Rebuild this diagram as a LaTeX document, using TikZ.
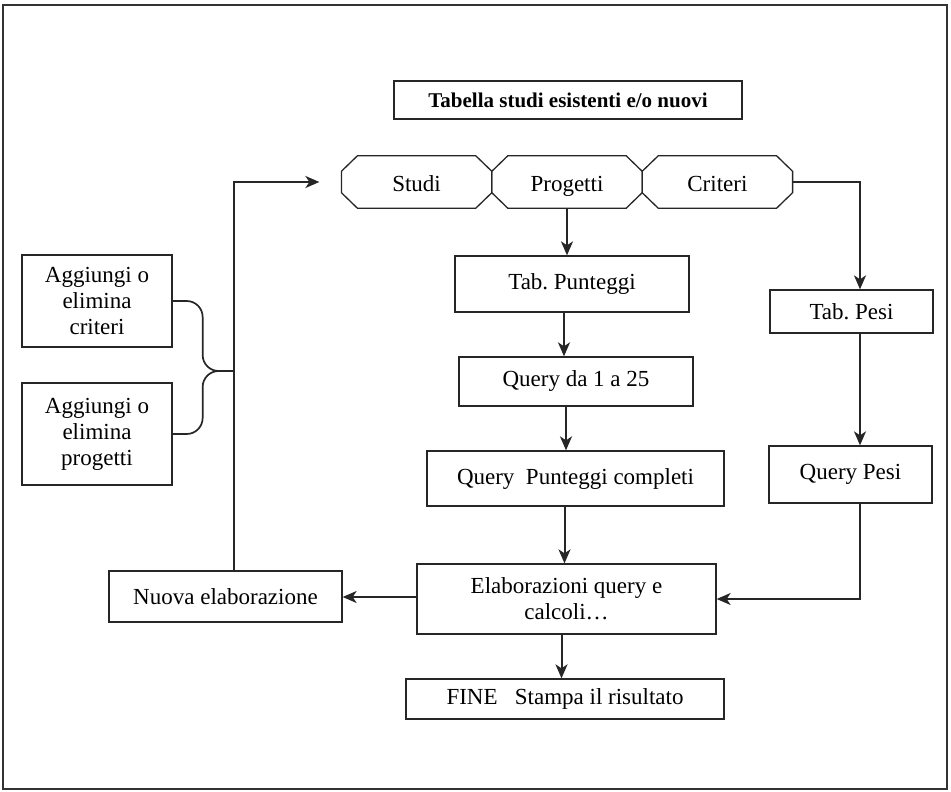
\documentclass[tikz,border=0pt]{standalone}
\usepackage{fontspec}
\setmainfont{Liberation Serif}
\frenchspacing
\usetikzlibrary{arrows.meta, positioning}

\begin{document}
\begin{tikzpicture}[
    x=1pt, y=-1pt,
    box/.style={
      rectangle, draw=black!85, line width=1.3pt,
      font=\fontsize{23}{26}\selectfont, align=center, inner sep=2pt
    },
    octbox/.style={
      rectangle, font=\fontsize{23}{26}\selectfont,
      minimum width=150pt, minimum height=52pt, inner sep=0pt,
      text height=20pt, text depth=1pt
    },
    octline/.style={black!85, line width=1.3pt},
    titlebox/.style={
      rectangle, draw=black!85, line width=1.3pt,
      font=\fontsize{21}{24}\selectfont\bfseries,
      minimum width=348pt, minimum height=38pt
    },
    arr/.style={-{Stealth[length=14pt, width=12pt, inset=4pt]}, black!85, line width=2pt},
    link/.style={black!85, line width=1.7pt},
  ]

  \useasboundingbox (0,0) rectangle (951,792);
  \draw[black!80, line width=1.2pt] (3,5) rectangle (947,789);

  \node[titlebox] (title) at (568,100) {Tabella studi esistenti e/o nuovi};

  \node[octbox] (prog) at (567,182) {Progetti};
  \node[octbox, left=0pt of prog] (studi) {Studi};
  \node[octbox, right=0pt of prog] (crit) {Criteri};
  \foreach \n in {studi, prog, crit}
    \draw[octline] ([xshift=16pt]\n.north west) -- ([xshift=-16pt]\n.north east)
      -- ([yshift=-15.5pt]\n.north east) -- ([yshift=15.5pt]\n.south east)
      -- ([xshift=-16pt]\n.south east) -- ([xshift=16pt]\n.south west)
      -- ([yshift=15.5pt]\n.south west) -- ([yshift=-15.5pt]\n.north west) -- cycle;

  \node[box, minimum width=234pt, minimum height=56pt] (tabpunt) at (572,284) {Tab. Punteggi};
  \node[box, minimum width=234pt, minimum height=49pt] (query25) at (576,381.5) {Query da 1 a 25};
  \node[box, minimum width=297pt, minimum height=55pt] (qcompl) at (575.5,478.5) {Query\ \ Punteggi completi};
  \node[box, minimum width=299pt, minimum height=70pt] (elab) at (566.5,599) {Elaborazioni query e\\calcoli…};
  \node[box, minimum width=318pt, minimum height=40pt] (fine) at (565,699) {FINE\ \ \ Stampa il risultato};

  \node[box, minimum width=163pt, minimum height=43pt] (tabpesi) at (851.5,311.5) {Tab. Pesi};
  \node[box, minimum width=163pt, minimum height=57pt] (qpesi) at (850.5,474.5) {Query Pesi};

  \node[box, minimum width=233pt, minimum height=51pt] (nuova) at (225.5,596.5) {Nuova elaborazione};
  \node[box, minimum width=150pt, minimum height=92pt] (aggcrit) at (97,301) {Aggiungi o\\elimina\\criteri};
  \node[box, minimum width=150pt, minimum height=102pt] (aggprog) at (97,434) {Aggiungi o\\elimina\\progetti};

  \coordinate (join) at (234,371);

  % Arrows
  \draw[arr] (prog.south) -- (prog.south |- tabpunt.north);
  \draw[arr] ([xshift=-8pt]tabpunt.south) -- ([xshift=-8pt]tabpunt.south |- query25.north);
  \draw[arr] ([xshift=-10pt]query25.south) -- ([xshift=-10pt]query25.south |- qcompl.north);
  \draw[arr] ([xshift=-11pt]qcompl.south) -- ([xshift=-11pt]qcompl.south |- elab.north);
  \draw[arr] ([xshift=-5pt]elab.south) -- ([xshift=-5pt]elab.south |- fine.north);

  \draw[arr] (crit.east) -| ([xshift=8.5pt]tabpesi.north);
  \draw[arr] ([xshift=8.5pt]tabpesi.south) -- ([xshift=8.5pt]tabpesi.south |- qpesi.north);
  \draw[arr] ([xshift=9pt]qpesi.south) |- (elab.east);

  \draw[arr] ([yshift=2pt]elab.west) -- ([yshift=2pt]elab.west -| nuova.east);
  \draw[arr] ([xshift=8.5pt]nuova.north) |- ([xshift=-22pt]studi.west);

  % Braces
  \draw[link] (aggcrit.east) -- ++(14,0) to[out=0, in=90] ++(16,16) -- ++(0,38)
    to[out=-90, in=180] ++(16,16) -- (join);
  \draw[link] (aggprog.east) -- ++(14,0) to[out=0, in=-90] ++(16,-16) -- ++(0,-31)
    to[out=90, in=180] ++(16,-16) -- (join);

\end{tikzpicture}
\end{document}
